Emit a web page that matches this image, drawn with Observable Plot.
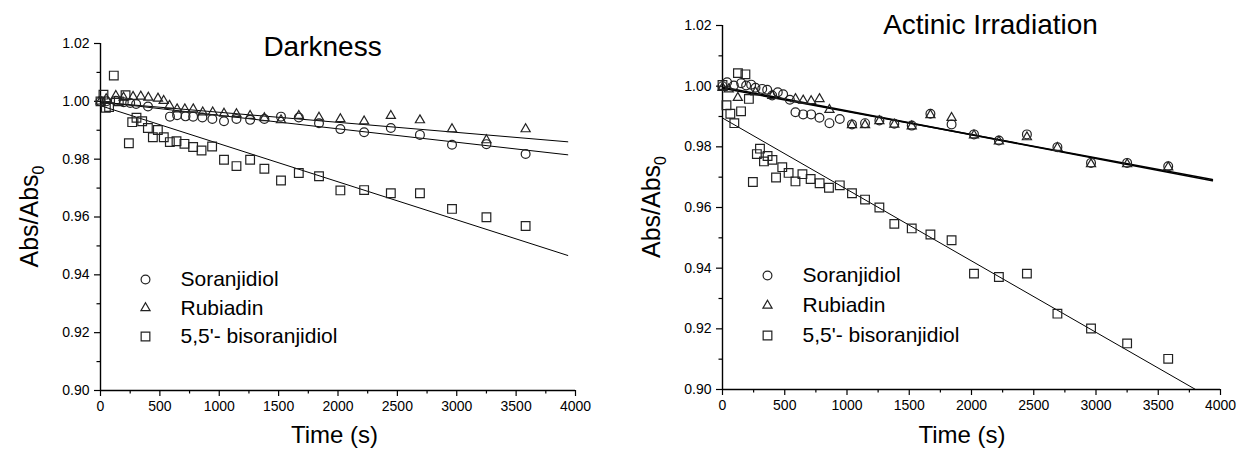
<!DOCTYPE html>
<html><head><meta charset="utf-8">
<script src="https://cdn.jsdelivr.net/npm/d3@7"></script>
<script src="https://cdn.jsdelivr.net/npm/@observablehq/plot@0.6"></script>
<style>
body{margin:0;background:#fff;width:1239px;height:451px;overflow:hidden;position:relative;font-family:"Liberation Sans",Arial,sans-serif}
#left{position:absolute;left:0;top:0}
#right{position:absolute;left:620px;top:0}
</style></head><body>
<div id="left"></div><div id="right"></div>
<script>
// ---- axis ticks ----
const xTicks = [0, 500, 1000, 1500, 2000, 2500, 3000, 3500, 4000];
const xMinor = [250, 750, 1250, 1750, 2250, 2750, 3250, 3750];
const yTicks = [0.90, 0.92, 0.94, 0.96, 0.98, 1.00, 1.02];
const yMinor = [0.91, 0.93, 0.95, 0.97, 0.99, 1.01];
const seriesNames = ["Soranjidiol", "Rubiadin", "5,5'- bisoranjidiol"];
const panelTitles = ["Darkness", "Actinic Irradiation"];
const xLabel = "Time (s)";

// common late sampling times (s)
const lateT = [1040, 1145, 1260, 1380, 1520, 1670, 1840, 2020, 2220, 2445, 2690, 2960, 3250, 3580];

// ---- Darkness ----
const darkSoT = [0, 50, 129, 196, 250, 300, 400, 585, 645, 716, 780, 858, 942, ...lateT];
const darkSoV = [1.000, 1.0000, 1.0002, 0.9997, 0.9994, 0.9991, 0.9982, 0.9947, 0.9952, 0.9948, 0.9947, 0.9944, 0.9939,
  0.9931, 0.9939, 0.9936, 0.9939, 0.9947, 0.9944, 0.9924, 0.9904, 0.9893, 0.9908, 0.9884, 0.9850, 0.9852, 0.9818];
const darkRuT = [0, 48, 129, 194, 274, 339, 403, 484, 532, 581, 645, 710, 781, 861, 945, ...lateT];
const darkRuV = [1.000, 1.0008, 1.0019, 1.0013, 1.0016, 1.0017, 1.0013, 1.0010, 1.0002, 0.9985, 0.9973, 0.9973, 0.9973, 0.9962, 0.9962,
  0.9958, 0.9956, 0.9950, 0.9942, 0.9935, 0.9950, 0.9944, 0.9939, 0.9931, 0.9950, 0.9935, 0.9904, 0.9866, 0.9904];
const darkBiT = [0, 25, 45, 72, 112, 154, 211, 239, 267, 303, 351, 399, 441, 483, 533, 584, 640, 707, 780, 851, 940, ...lateT];
const darkBiV = [1.000, 1.0023, 0.9978, 0.9980, 1.0089, 1.0000, 1.0021, 0.9855, 0.9928, 0.9943, 0.9931, 0.9908, 0.9876, 0.9901, 0.9876,
  0.9859, 0.9862, 0.9853, 0.9842, 0.9830, 0.9844,
  0.9798, 0.9776, 0.9798, 0.9767, 0.9726, 0.9752, 0.9741, 0.9692, 0.9693, 0.9682, 0.9682, 0.9628, 0.9599, 0.9569];
const darkFitT = [0, 3935];
const darkFitSo = [0.9998, 0.9815];
const darkFitRu = [0.9997, 0.9860];
const darkFitBi = [0.9985, 0.9467];

// ---- Actinic irradiation ----
const actSoT = [0, 37, 91, 150, 190, 230, 265, 319, 359, 399, 444, 487, 541, 586, 648, 712, 779, 859, 942, ...lateT];
const actSoV = [1.000, 1.0013, 1.0002, 1.0010, 1.0002, 1.0005, 0.9995, 0.9991, 0.9988, 0.9969, 0.9980, 0.9973, 0.9955, 0.9914, 0.9907, 0.9907, 0.9896, 0.9878, 0.9892,
  0.9874, 0.9878, 0.9887, 0.9876, 0.9870, 0.9909, 0.9874, 0.9841, 0.9821, 0.9841, 0.9799, 0.9747, 0.9747, 0.9736];
const actRuT = [0, 50, 123, 265, 400, 586, 648, 712, 779, 859, ...lateT];
const actRuV = [0.9995, 0.9990, 0.9962, 0.9980, 0.9968, 0.9958, 0.9953, 0.9951, 0.9958, 0.9922,
  0.9872, 0.9872, 0.9885, 0.9874, 0.9868, 0.9905, 0.9896, 0.9838, 0.9818, 0.9832, 0.9797, 0.9743, 0.9743, 0.9733];
const actBiT = [0, 32, 63, 95, 124, 149, 184, 212, 244, 276, 301, 333, 362, 401, 430, 480, 531, 586, 642, 708, 780, 855, 942, ...lateT];
const actBiV = [1.0004, 0.9937, 0.9909, 0.9878, 1.0043, 0.9917, 1.0039, 0.9958, 0.9684, 0.9776, 0.9794, 0.9752, 0.9770, 0.9757, 0.9699, 0.9733, 0.9714, 0.9686, 0.9710, 0.9694, 0.9680, 0.9665, 0.9673,
  0.9647, 0.9626, 0.9600, 0.9546, 0.9531, 0.9511, 0.9492, 0.9382, 0.9371, 0.9382, 0.9250, 0.9201, 0.9152, 0.9101];
const actFitT = [0, 3935];
const actFitSo = [0.9997, 0.9688];
const actFitRu = [0.9993, 0.9692];
const actFitBiT = [0, 3800];
const actFitBi = [0.9895, 0.9000];

const zip = (ts, vs, s) => ts.map((t, i) => ({t, v: vs[i], s}));
const fmtY = d3.format(".2f");
const fmtX = d => String(d);
const symbols = ["circle", "triangle", "square"];
const radii = [4.4, 3.4, 4.9];

function makePanel(o) {
  const pts = [zip(o.soT, o.soV, 0), zip(o.ruT, o.ruV, 1), zip(o.biT, o.biV, 2)];
  const fits = [zip(o.fitT, o.fitSo, 0), zip(o.fitT, o.fitRu, 1), zip(o.fitBiT, o.fitBi, 2)];
  const W = o.width, H = 451;
  const plot = Plot.plot({
    width: W, height: H,
    marginLeft: o.ml, marginRight: o.mr, marginTop: o.mt, marginBottom: o.mb,
    style: {fontFamily: '"Liberation Sans", Arial, sans-serif', fontSize: "14px", color: "black", background: "transparent", overflow: "visible"},
    x: {domain: [xTicks[0], xTicks[xTicks.length - 1]]},
    y: {domain: [yTicks[0], yTicks[yTicks.length - 1]]},
    marks: [
      Plot.axisX(xTicks, {tickSize: 6, tickPadding: 5, tickFormat: fmtX, label: null, fontSize: 14, strokeWidth: 1.2}),
      Plot.axisX(xMinor, {tickSize: 3.5, tickFormat: () => "", label: null, strokeWidth: 1.2}),
      Plot.axisY(yTicks, {tickSize: 6, tickPadding: 5, tickFormat: fmtY, label: null, fontSize: 14, strokeWidth: 1.2}),
      Plot.axisY(yMinor, {tickSize: 3.5, tickFormat: () => "", label: null, strokeWidth: 1.2}),
      Plot.ruleX([xTicks[0]], {stroke: "black", strokeWidth: 1.4}),
      Plot.ruleY([yTicks[0]], {stroke: "black", strokeWidth: 1.4}),
      ...fits.map((f, i) => Plot.line(f, {x: "t", y: "v", stroke: "black", strokeWidth: o.fitWidths[i]})),
      ...pts.map((p, i) => Plot.dot(p, {x: "t", y: "v", symbol: symbols[i], r: radii[i], stroke: "#222", strokeWidth: 1.2, fill: "none"})),
      // legend
      ...seriesNames.map((name, i) => Plot.dot([name], {frameAnchor: "top-left", dx: 45, dy: o.legendDy + i * o.legendStep, symbol: symbols[i], r: radii[i], stroke: "#222", strokeWidth: 1.2, fill: "none"})),
      ...seriesNames.map((name, i) => Plot.text([name], {text: d => d, frameAnchor: "top-left", dx: 80, dy: o.legendDy + i * o.legendStep, textAnchor: "start", lineAnchor: "middle", fontSize: 21, fill: "black"})),
      Plot.text([o.title], {text: d => d, frameAnchor: "top-left", dx: o.titleDx, dy: o.titleDy, textAnchor: "middle", lineAnchor: "middle", fontSize: 28, fill: "black"})
    ]
  });
  const svg = d3.select(plot);
  const fw = W - o.ml - o.mr;
  svg.append("text").attr("x", o.ml + fw / 2 + o.xLabelDx).attr("y", 443)
    .attr("text-anchor", "middle").attr("font-size", 24).attr("fill", "black").text(xLabel);
  const yl = svg.append("text").attr("transform", `translate(${o.ml - 62},${o.mt + (H - o.mt - o.mb) / 2}) rotate(-90)`)
    .attr("text-anchor", "middle").attr("font-size", 25).attr("fill", "black");
  yl.append("tspan").text("Abs/Abs");
  yl.append("tspan").attr("font-size", 16).attr("dy", "0.4em").text("0");
  return plot;
}

document.getElementById("left").appendChild(makePanel({
  width: 600, ml: 100, mr: 25, mt: 43, mb: 61,
  title: panelTitles[0], titleDx: 222, titleDy: 4,
  soT: darkSoT, soV: darkSoV, ruT: darkRuT, ruV: darkRuV, biT: darkBiT, biV: darkBiV,
  fitT: darkFitT, fitSo: darkFitSo, fitRu: darkFitRu, fitBiT: darkFitT, fitBi: darkFitBi,
  fitWidths: [1, 1, 1], legendDy: 236, legendStep: 28.5, xLabelDx: -3
}));
document.getElementById("right").appendChild(makePanel({
  width: 619, ml: 102, mr: 19, mt: 25, mb: 62,
  title: panelTitles[1], titleDx: 268, titleDy: 0,
  soT: actSoT, soV: actSoV, ruT: actRuT, ruV: actRuV, biT: actBiT, biV: actBiV,
  fitT: actFitT, fitSo: actFitSo, fitRu: actFitRu, fitBiT: actFitBiT, fitBi: actFitBi,
  fitWidths: [1.5, 1.5, 1], legendDy: 250, legendStep: 30, xLabelDx: -9
}));
</script></body></html>
